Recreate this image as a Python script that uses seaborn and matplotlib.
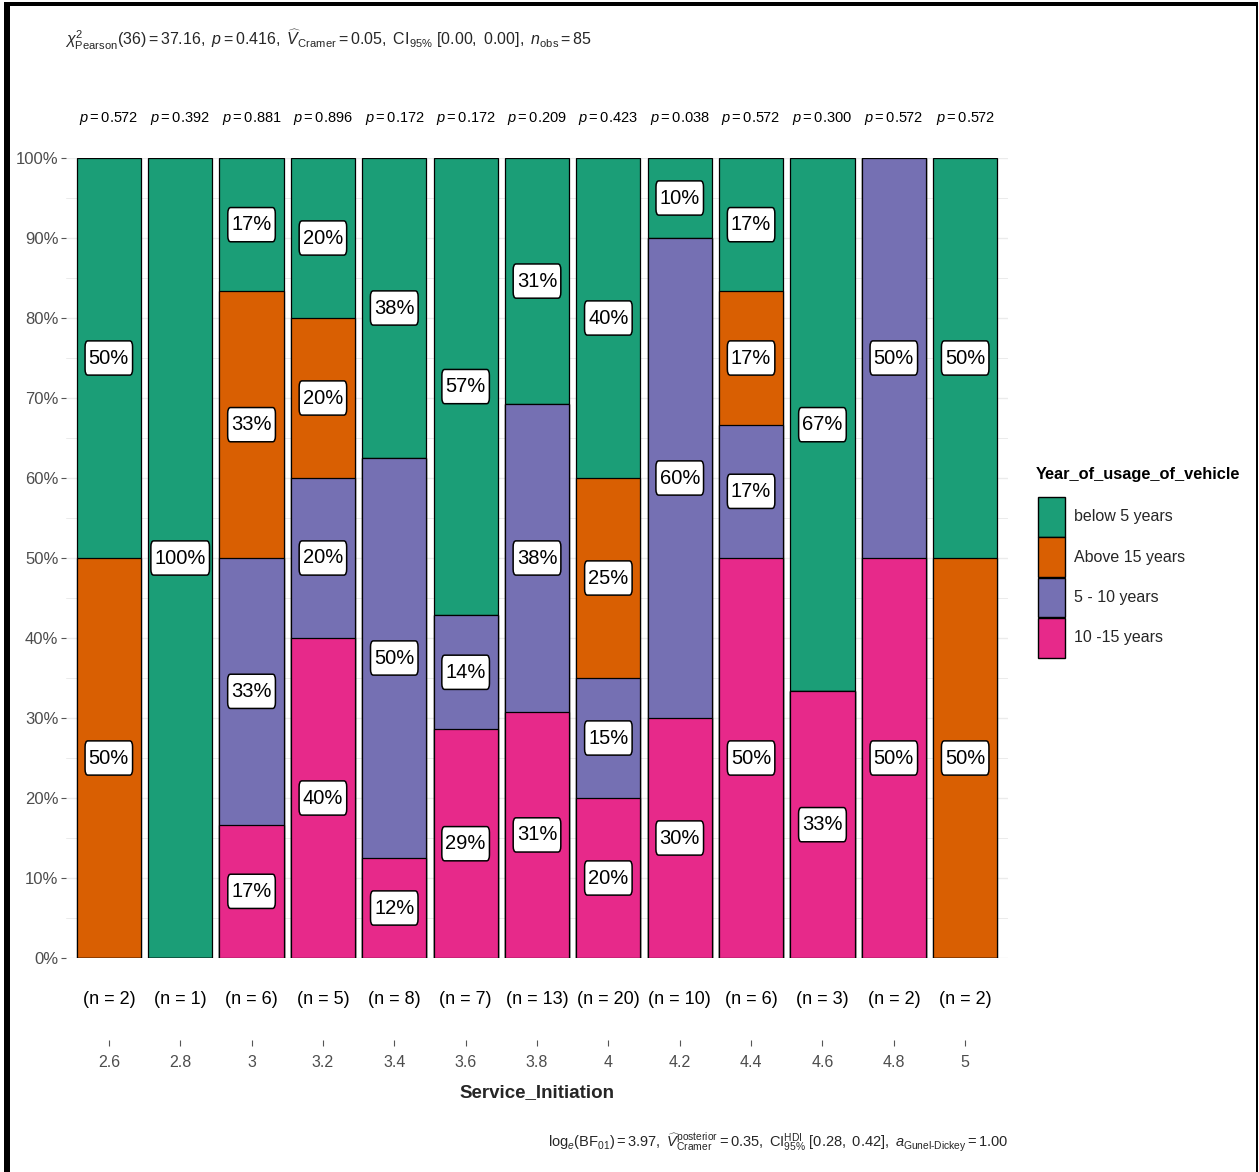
import numpy as np
import pandas as pd
import matplotlib
matplotlib.use("Agg")
import matplotlib.pyplot as plt
from matplotlib.patches import Patch, Rectangle
import seaborn as sns

# ---- data -------------------------------------------------------------
service = ["2.6", "2.8", "3", "3.2", "3.4", "3.6", "3.8", "4", "4.2", "4.4", "4.6", "4.8", "5"]
levels = ["below 5 years", "Above 15 years", "5 - 10 years", "10 -15 years"]
below_5 = [1, 1, 1, 1, 3, 4, 4, 8, 1, 1, 2, 0, 1]
above_15 = [1, 0, 2, 1, 0, 0, 0, 5, 0, 1, 0, 0, 1]
five_to_ten = [0, 0, 2, 1, 4, 1, 5, 3, 6, 1, 0, 1, 0]
ten_to_fifteen = [0, 0, 1, 2, 1, 2, 4, 4, 3, 3, 1, 1, 0]
p_values = ["0.572", "0.392", "0.881", "0.896", "0.172", "0.172", "0.209",
            "0.423", "0.038", "0.572", "0.300", "0.572", "0.572"]
palette = ["#1B9E77", "#D95F02", "#7570B3", "#E7298A"]

counts = pd.DataFrame({levels[0]: below_5, levels[1]: above_15,
                       levels[2]: five_to_ten, levels[3]: ten_to_fifteen},
                      index=service)
totals = counts.sum(axis=1)
share = counts.div(totals, axis=0)
# cumulative share measured from the bottom of each bar (last level at the bottom)
cum_top = share[levels[::-1]].cumsum(axis=1)[levels]

# ---- style ------------------------------------------------------------
sns.set_theme(style="white")
plt.rcParams["font.family"] = ["Liberation Sans", "DejaVu Sans"]
plt.rcParams["mathtext.fontset"] = "custom"
plt.rcParams["mathtext.rm"] = "Liberation Sans"
plt.rcParams["mathtext.it"] = "Liberation Sans:italic"
plt.rcParams["mathtext.bf"] = "Liberation Sans:bold"
plt.rcParams["mathtext.sf"] = "Liberation Sans"

W, H = 1259, 1172
fig = plt.figure(figsize=(W / 100, H / 100), dpi=100)
ax = fig.add_axes([66 / W, 1 - 958 / H, (1008 - 66) / W, 800 / H])

# gridlines behind the bars
for y in np.arange(0, 1.0001, 0.05):
    ax.axhline(y, color="#EBEBEB", lw=1.0 if round(y * 100) % 10 == 0 else 0.7, zorder=0)

# stacked bars: draw each cumulative layer, from the full bar down
for lvl, col in zip(levels, palette):
    layer = pd.DataFrame({"service": service, "cum": cum_top[lvl].values})
    sns.barplot(data=layer, x="service", y="cum", order=service, color=col,
                saturation=1, width=0.9, edgecolor="black", linewidth=0.9,
                errorbar=None, ax=ax, zorder=2)

# percentage labels in the middle of each segment
for j, s in enumerate(service):
    for lvl in levels:
        if counts.loc[s, lvl] == 0:
            continue
        frac = share.loc[s, lvl]
        mid = cum_top.loc[s, lvl] - frac / 2
        ax.text(j, mid, f"{round(frac * 100)}%", ha="center", va="center",
                fontsize=14.5, color="black", zorder=5,
                bbox=dict(boxstyle="round,pad=0.18,rounding_size=0.14",
                          mutation_aspect=2.1, fc="white", ec="black", lw=1.1))

# per-column p-values above and sample sizes below the panel
for j, s in enumerate(service):
    ax.text(j, 1.049, rf"$\mathit{{p}} = {p_values[j]}$", ha="center", va="center",
            fontsize=10.5, color="black", clip_on=False)
    ax.text(j, -0.0525, f"(n = {totals[s]})", ha="center", va="center",
            fontsize=13, color="black", clip_on=False)

ax.set_xlim(-0.6, 12.6)
ax.set_ylim(0, 1)
ax.set_yticks(np.arange(0, 1.0001, 0.1))
ax.set_yticklabels([f"{int(round(v * 100))}%" for v in np.arange(0, 1.0001, 0.1)])
for sp in ax.spines.values():
    sp.set_visible(False)
ax.spines["bottom"].set_position(("outward", 59))
ax.tick_params(axis="y", which="both", left=True, length=3.5, width=0.8,
               color="#555555", labelsize=12, labelcolor="#4D4D4D", pad=2)
ax.tick_params(axis="x", which="both", bottom=True, length=4, width=0.8,
               color="#555555", labelsize=11.5, labelcolor="#4D4D4D", pad=7)
ax.set_ylabel("")
ax.set_xlabel("Service_Initiation", fontsize=13.5, fontweight="bold", labelpad=10)
ax.set_facecolor("white")

# legend
fig.text(1036 / W, 1 - 474 / H, "Year_of_usage_of_vehicle", ha="left", va="center",
         fontsize=11.8, fontweight="bold", color="black")
handles = [Patch(facecolor=c, edgecolor="black", lw=1.0, label=l) for l, c in zip(levels, palette)]
fig.legend(handles=handles, loc="upper left",
           bbox_to_anchor=(1038 / W, 1 - 497 / H), frameon=False,
           fontsize=11.5, handlelength=1.68, handleheight=3.47,
           labelspacing=0.02, handletextpad=0.55, borderaxespad=0, borderpad=0)

# statistical summaries
fig.text(65 / W, 1 - 40 / H,
         r"$\chi^2_{\mathrm{Pearson}}(36) = 37.16,\ \mathit{p} = 0.416,\ "
         r"\widehat{V}_{\mathrm{Cramer}} = 0.05,\ \mathrm{CI}_{95\%}\ [0.00,\ 0.00],\ "
         r"\mathit{n}_{\mathrm{obs}} = 85$",
         ha="left", va="center", fontsize=11.5)
fig.text(1008 / W, 1 - 1142 / H,
         r"$\mathrm{log}_{e}(\mathrm{BF}_{01}) = 3.97,\ "
         r"\widehat{V}_{\mathrm{Cramer}}^{\mathrm{posterior}} = 0.35,\ "
         r"\mathrm{CI}_{95\%}^{\mathrm{HDI}}\ [0.28,\ 0.42],\ "
         r"\mathit{a}_{\mathrm{Gunel\text{-}Dickey}} = 1.00$",
         ha="right", va="center", fontsize=10.5)

# outer frame
fig.patches.append(Rectangle((4 / W, 0), 6 / W, 1 - 2 / H, transform=fig.transFigure,
                             facecolor="black", edgecolor="none"))
fig.patches.append(Rectangle((4 / W, 1 - 6 / H), (1258 - 4) / W, 4 / H,
                             transform=fig.transFigure, facecolor="black", edgecolor="none"))
fig.patches.append(Rectangle((1256 / W, 0), 2 / W, 1 - 2 / H, transform=fig.transFigure,
                             facecolor="black", edgecolor="none"))

fig.savefig("out.png", dpi=100, facecolor="white")
